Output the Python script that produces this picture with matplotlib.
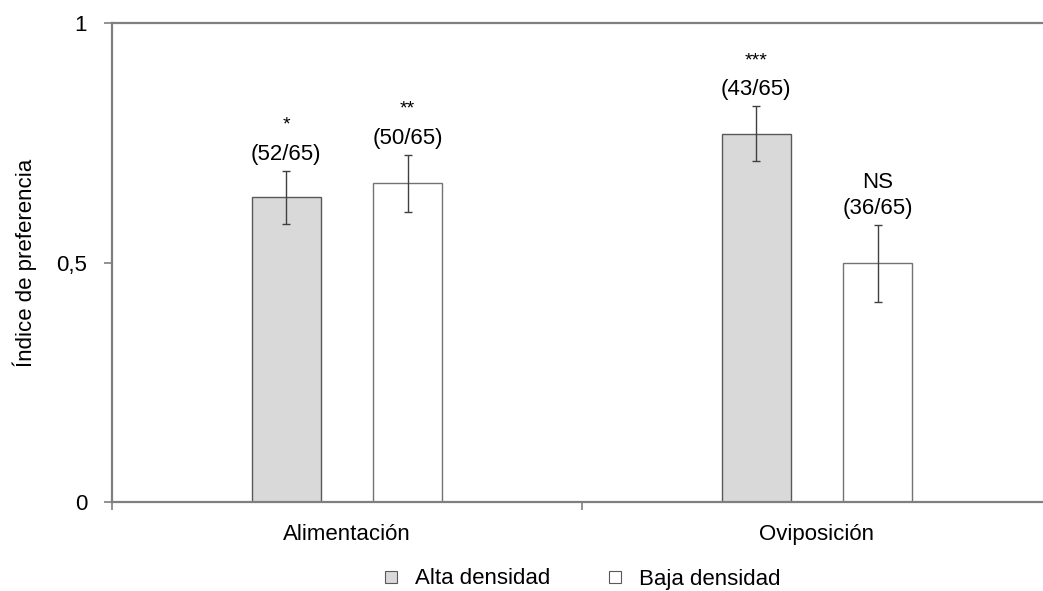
import matplotlib

matplotlib.use("Agg")
import matplotlib.pyplot as plt
from matplotlib.lines import Line2D
import numpy as np

plt.rcParams["font.family"] = ["Liberation Sans", "DejaVu Sans"]

# data
categories = ["Alimentación", "Oviposición"]
groups = ["Alta densidad", "Baja densidad"]
alta = [0.636, 0.769]
baja = [0.665, 0.498]
alta_err = [0.055, 0.057]
baja_err = [0.060, 0.080]
alta_sig = ["*", "***"]
baja_sig = ["**", "NS"]
alta_counts = ["(52/65)", "(43/65)"]
baja_counts = ["(50/65)", "(36/65)"]

SPINE = "#7f7f7f"
FS = 16
W, OFF = 0.147, 0.129

fig = plt.figure(figsize=(10.43, 5.91), dpi=100)
ax = fig.add_axes([112 / 1043, 89 / 591, 940 / 1043, 479 / 591])

x = np.arange(len(categories))
series = [
    (x - OFF, alta, alta_err, alta_sig, alta_counts, "#d9d9d9", "#595959"),
    (x + OFF, baja, baja_err, baja_sig, baja_counts, "white", "#737373"),
]
for xs, vals, errs, sigs, counts, fc, ec in series:
    ax.bar(xs, vals, W, color=fc, edgecolor=ec, lw=1.0, zorder=2)
    ax.errorbar(xs, vals, yerr=errs, fmt="none", ecolor="#404040", elinewidth=1.0,
                capsize=3, capthick=1.0, zorder=3)
    for xi, v, e, s, c in zip(xs, vals, errs, sigs, counts):
        ax.annotate(c, (xi, v + e), xytext=(0, 12), textcoords="offset points",
                    ha="center", va="center", fontsize=FS)
        if s == "NS":
            ax.annotate(s, (xi, v + e), xytext=(0, 31), textcoords="offset points",
                        ha="center", va="center", fontsize=FS)
        else:
            ax.annotate(s, (xi, v + e), xytext=(0, 33), textcoords="offset points",
                        ha="center", va="center", fontsize=14)

ax.set_xlim(-0.5, 1.5)
ax.set_ylim(0, 1)
ax.set_yticks([0, 0.5, 1])
ax.set_yticklabels(["0", "0,5", "1"], fontsize=FS)
ax.set_xticks([-0.5, 0.5, 1.5])
ax.set_xticklabels([])
ax.set_xticks(x, minor=True)
ax.set_xticklabels(categories, minor=True, fontsize=FS)
ax.tick_params(axis="x", which="major", length=6, width=1.2, color=SPINE, direction="out")
ax.tick_params(axis="x", which="minor", length=0, pad=16)
ax.tick_params(axis="y", length=6, width=1.2, color=SPINE, direction="out", pad=12)
for side in ("left", "top", "bottom"):
    ax.spines[side].set_color(SPINE)
    ax.spines[side].set_linewidth(1.6)
ax.spines["right"].set_visible(False)
ax.set_ylabel("Índice de preferencia", fontsize=FS, labelpad=14)

handles = [Line2D([], [], marker="s", ls="none", markersize=9, markerfacecolor="#d9d9d9",
                  markeredgecolor="#595959", markeredgewidth=0.8),
           Line2D([], [], marker="s", ls="none", markersize=9, markerfacecolor="white",
                  markeredgecolor="#595959", markeredgewidth=0.8)]
fig.legend(handles, groups, loc="center", bbox_to_anchor=(580 / 1043, 1 - 579 / 591),
           ncol=2, frameon=False, fontsize=FS, handletextpad=0.6, columnspacing=2.4,
           handlelength=1.0)

fig.savefig("out.png", dpi=100)
